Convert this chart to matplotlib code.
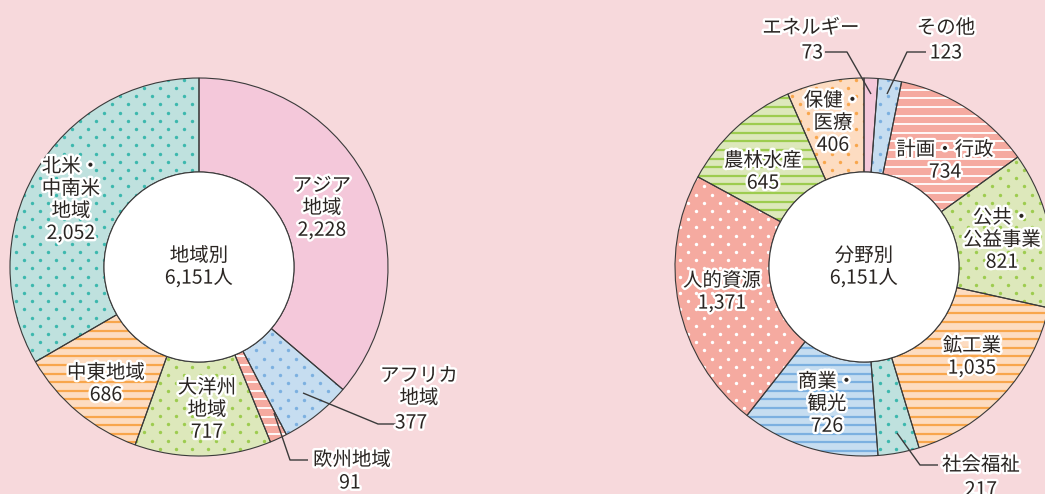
import numpy as np
import matplotlib
matplotlib.use("Agg")
import matplotlib.pyplot as plt
import matplotlib.patheffects as pe
from matplotlib.patches import Circle

plt.rcParams['font.family'] = ['Noto Sans CJK JP', 'DejaVu Sans']

# 地域別
region_labels = ["アジア\n地域", "アフリカ\n地域", "欧州地域", "大洋州\n地域", "中東地域", "北米・\n中南米\n地域"]
region_values = [2228, 377, 91, 717, 686, 2052]

# 分野別
field_labels = ["エネルギー", "その他", "計画・行政", "公共・\n公益事業", "鉱工業", "社会福祉",
                "商業・\n観光", "人的資源", "農林水産", "保健・\n医療"]
field_values = [73, 123, 734, 821, 1035, 217, 726, 1371, 645, 406]

total_label = "6,151人"

W, H = 1045, 494
BG = "#f7d9dc"
TXT = "#2a2522"
EDGE = "#3a3a3a"

PINK = "#f4c8da"
LBLUE, BLUE = "#c6ddf0", "#7cb0e0"
SALMON = "#f5aaa0"
LGREEN, GREEN = "#dde8bb", "#9dcc4f"
LORANGE, ORANGE = "#fddcc1", "#f8a64c"
LTEAL, TEAL = "#bfe1de", "#3cb8ae"

# (face, pattern, pattern colour)
region_style = [
    (PINK, None, None),
    (LBLUE, "dot", BLUE),
    (SALMON, "line", "white"),
    (LGREEN, "dot", GREEN),
    (LORANGE, "line", ORANGE),
    (LTEAL, "dot", TEAL),
]
field_style = [
    (PINK, None, None),
    (LBLUE, "dot", BLUE),
    (SALMON, "line", "white"),
    (LGREEN, "dot", GREEN),
    (LORANGE, "line", ORANGE),
    (LTEAL, "dot", TEAL),
    (LBLUE, "line", BLUE),
    (SALMON, "dot", "white"),
    (LGREEN, "line", GREEN),
    (LORANGE, "dot", ORANGE),
]

fig = plt.figure(figsize=(W / 100, H / 100), dpi=100, facecolor=BG)
ax = fig.add_axes([0, 0, 1, 1])
ax.set_xlim(0, W)
ax.set_ylim(0, H)
ax.set_aspect('equal')
ax.axis('off')

R_OUT, R_IN = 189, 95

# texture grids
gx, gy = [], []
for j, yy in enumerate(np.arange(-4, H + 8, 8.2)):
    off = 8 if j % 2 else 0
    for xx in np.arange(off, W + 16, 16):
        gx.append(xx)
        gy.append(yy)
gx, gy = np.array(gx), np.array(gy)
line_ys = np.arange(0, H + 10, 8.6)


def donut(values, styles, cx, cy):
    faces = [s[0] for s in styles]
    wedges, _ = ax.pie(values, colors=faces, startangle=90, counterclock=False,
                       center=(cx, cy), radius=R_OUT, frame=True,
                       wedgeprops=dict(width=R_OUT - R_IN, linewidth=0))
    for w, (face, pat, pcol) in zip(wedges, styles):
        w.set_zorder(1)
        if pat == "dot":
            sc = ax.scatter(gx, gy, s=6, color=pcol, linewidths=0, zorder=2)
            sc.set_clip_path(w)
        elif pat == "line":
            lw = 1.6 if pcol != "white" else 1.3
            lc = ax.hlines(line_ys, cx - R_OUT, cx + R_OUT, colors=pcol, linewidth=lw, zorder=2)
            lc.set_clip_path(w)
    outl, _ = ax.pie(values, startangle=90, counterclock=False, center=(cx, cy),
                     radius=R_OUT, frame=True,
                     wedgeprops=dict(width=R_OUT - R_IN, fill=False, edgecolor=EDGE, linewidth=0.8))
    for w in outl:
        w.set_zorder(3)
    ax.add_patch(Circle((cx, cy), R_IN, facecolor="white", edgecolor=EDGE, linewidth=0.8, zorder=4))


LCX, LCY = 199, H - 267
RCX, RCY = 864, H - 267
donut(region_values, region_style, LCX, LCY)
donut(field_values, field_style, RCX, RCY)
ax.set_xlim(0, W)
ax.set_ylim(0, H)

stroke = [pe.withStroke(linewidth=3.5, foreground="white")]


def label(x, py, s, ha="center"):
    ax.text(x, H - py, s, ha=ha, va="center", fontsize=14, color=TXT, linespacing=1.08,
            path_effects=stroke, zorder=6)


def leader(pts):
    xs = [p[0] for p in pts]
    ys = [H - p[1] for p in pts]
    ax.plot(xs, ys, color=EDGE, linewidth=1, zorder=5, solid_capstyle="butt")


# centre labels
label(LCX, 267, "地域別\n" + total_label)
label(RCX, 267, "分野別\n" + total_label)

rv = [f"{v:,}" for v in region_values]
fv = [f"{v:,}" for v in field_values]

# region labels
label(322, 208, region_labels[0] + "\n" + rv[0])
label(419, 387, region_labels[1])
label(411, 423, rv[1])
leader([(303, 393), (378, 424), (396, 424)])
label(352, 460, region_labels[2])
label(350, 483, rv[2])
leader([(274, 413), (290, 460), (308, 460)])
label(207, 410, region_labels[3] + "\n" + rv[3])
label(106, 384, region_labels[4] + "\n" + rv[4])
label(71, 200, region_labels[5] + "\n" + rv[5])

# field labels
label(811, 28, field_labels[0])
label(823, 53, fv[0], ha="right")
leader([(825, 52), (847, 52), (871, 94)])
label(946, 28, field_labels[1])
label(946, 53, fv[1])
leader([(887, 94), (907, 52), (926, 52)])
label(945, 161, field_labels[2] + "\n" + fv[2])
label(1002, 240, field_labels[3] + "\n" + fv[3])
label(972, 357, field_labels[4] + "\n" + fv[4])
label(981, 465, field_labels[5])
label(981, 490, fv[5])
leader([(897, 433), (920, 465), (938, 465)])
label(827, 404, field_labels[6] + "\n" + fv[6])
label(722, 292, field_labels[7] + "\n" + fv[7])
label(763, 172, field_labels[8] + "\n" + fv[8])
label(833, 123, field_labels[9] + "\n" + fv[9])

fig.savefig("out.png", dpi=100, facecolor=BG)
